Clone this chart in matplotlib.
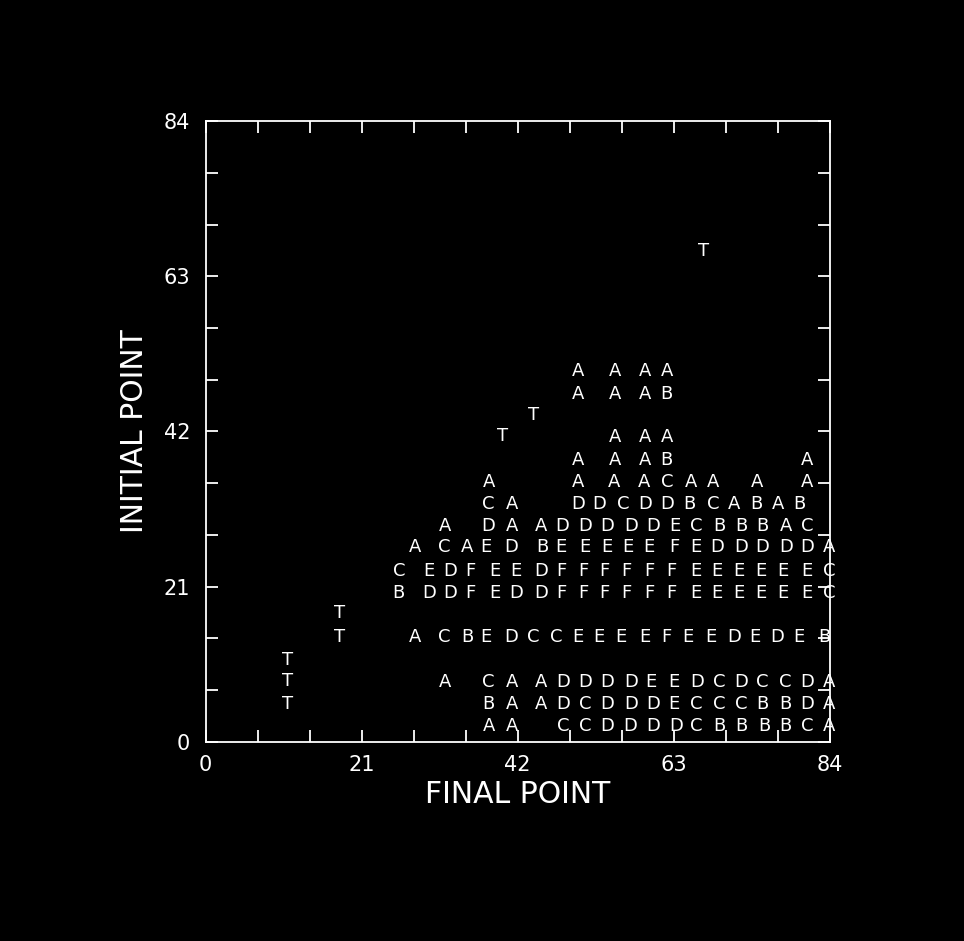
import matplotlib
matplotlib.use("Agg")
import matplotlib.pyplot as plt
from matplotlib.ticker import MultipleLocator

# letter rows: y position, x positions, letter codes
row_y = [50.2, 47.1, 41.3, 38.2, 35.2, 32.2, 29.2, 26.3, 23.1, 20.1, 14.1, 8.1, 5.1, 2.1]
row_letters = [
    "AAAA",
    "AAAB",
    "AAA",
    "AAABA",
    "AAAACAAAA",
    "CADDCDDBCABAB",
    "ADAADDDDDECBBBAC",
    "ACAEDBEEEEEFEDDDDDA",
    "CEDFEEDFFFFFFEEEEEEC",
    "BDDFEDDFFFFFFEEEEEEC",
    "ACBEDCCEEEEFEEDEDEB",
    "ACAADDDDEEDCDCCDA",
    "BAADCDDDECCCBBDA",
    "AACCDDDDCBBBBCA",
]
row_x = [
    [50.1, 55.1, 59.1, 62.1],
    [50.1, 55.1, 59.1, 62.1],
    [55.1, 59.1, 62.1],
    [50.1, 55.1, 59.1, 62.1, 81.0],
    [38.1, 50.1, 55.0, 59.0, 62.1, 65.3, 68.3, 74.2, 81.0],
    [38.1, 41.2, 50.1, 53.0, 56.2, 59.2, 62.2, 65.2, 68.3, 71.2, 74.1, 77.1, 80.0],
    [32.2, 38.1, 41.2, 45.2, 48.0, 51.1, 54.1, 57.3, 60.2, 63.2, 66.1, 69.2, 72.1, 75.0, 78.1, 81.0],
    [28.2, 32.2, 35.2, 37.8, 41.2, 45.3, 47.9, 51.1, 54.0, 56.8, 59.7, 63.1, 66.0, 68.9, 72.1, 75.0, 78.1, 81.0, 83.9],
    [26.1, 30.1, 33.0, 35.6, 38.9, 41.8, 45.2, 47.9, 50.8, 53.7, 56.6, 59.7, 62.7, 66.0, 68.9, 71.8, 74.8, 77.7, 80.9, 83.9],
    [26.0, 30.1, 33.0, 35.6, 38.9, 41.8, 45.2, 47.9, 50.8, 53.7, 56.6, 59.7, 62.7, 66.0, 68.9, 71.8, 74.8, 77.7, 80.9, 83.9],
    [28.2, 32.1, 35.2, 37.8, 41.1, 44.1, 47.2, 50.1, 52.9, 55.9, 59.1, 62.0, 64.9, 68.0, 71.2, 73.9, 77.0, 79.9, 83.3],
    [32.2, 38.1, 41.2, 45.2, 48.2, 51.1, 54.1, 57.3, 60.0, 63.1, 66.2, 69.2, 72.1, 75.0, 78.1, 81.0, 83.9],
    [38.1, 41.2, 45.2, 48.1, 51.1, 54.1, 57.3, 60.2, 63.1, 66.1, 69.2, 72.1, 75.0, 78.1, 81.0, 83.9],
    [38.1, 41.2, 48.1, 51.1, 54.1, 57.1, 60.2, 63.3, 66.1, 69.2, 72.1, 75.2, 78.0, 81.0, 83.9],
]

# T marks
t_x = [11.0, 11.0, 11.0, 18.0, 18.0, 40.0, 44.1, 67.0]
t_y = [11.1, 8.2, 5.1, 17.4, 14.2, 41.4, 44.3, 66.4]

axis_ticks = [0, 21, 42, 63, 84]

fg = "white"
plt.rcParams['font.family'] = ['DejaVu Sans']

fig = plt.figure(figsize=(9.64, 9.41), dpi=100, facecolor="black")
ax = fig.add_axes([0.2132, 0.2120, 0.6473, 0.6589], facecolor="black")

for y, letters, xs in zip(row_y, row_letters, row_x):
    for x, ch in zip(xs, letters):
        ax.text(x, y, ch, color=fg, fontsize=13, ha="center", va="center", clip_on=False)

for x, y in zip(t_x, t_y):
    ax.text(x, y, "T", color=fg, fontsize=13, ha="center", va="center", clip_on=False)

ax.set_xlim(0, 84)
ax.set_ylim(0, 84)
ax.set_xticks(axis_ticks)
ax.set_yticks(axis_ticks)
ax.xaxis.set_minor_locator(MultipleLocator(7))
ax.yaxis.set_minor_locator(MultipleLocator(7))
ax.tick_params(which="both", direction="in", top=True, right=True, length=8.5,
               width=1.3, color=fg, labelcolor=fg, labelsize=15)
ax.tick_params(axis="x", pad=10)
ax.tick_params(axis="y", pad=11)
for s in ax.spines.values():
    s.set_color(fg)
    s.set_linewidth(1.3)

fig.text(0.537, 0.156, "FINAL POINT", color=fg, fontsize=21.5, ha="center", va="center")
fig.text(0.140, 0.542, "INITIAL POINT", color=fg, fontsize=21.5, ha="center", va="center",
         rotation=90)

fig.savefig("out.png", dpi=100, facecolor="black")
